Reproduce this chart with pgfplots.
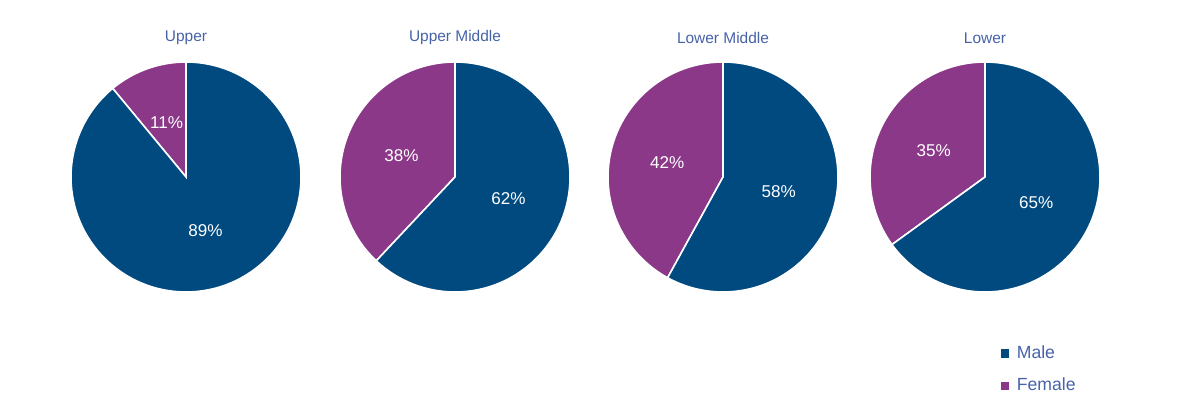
\documentclass[border=0pt]{standalone}
\usepackage{pgfplots}
\pgfplotsset{compat=1.18}
\usepackage{fontspec}
\setmainfont{Liberation Sans}
\definecolor{male}{HTML}{004A80}
\definecolor{female}{HTML}{8B3889}
\definecolor{titleblue}{HTML}{4662A8}
\newcommand\titlefont{\fontsize{11.6}{14}\selectfont}
\newcommand\pctfont{\fontsize{12.8}{15}\selectfont}
\newcommand\legfont{\fontsize{13.2}{16}\selectfont}
% #1 centre x, #2 centre y (axis units, 1 unit = 1 px), #3 male %, #4 female %, #5 title
\newcommand\pie[5]{%
  \fill[female, draw=white, line width=1.2pt] (axis cs:#1,#2) -- (axis cs:#1,{#2+115})
     arc[start angle=90, end angle={90+3.6*#4}, radius=86.25pt] -- cycle;
  \fill[male, draw=white, line width=1.2pt] (axis cs:#1,#2) -- (axis cs:#1,{#2+115})
     arc[start angle=90, end angle={90-3.6*#3}, radius=86.25pt] -- cycle;
  \node[white, font=\pctfont] at (axis cs:{#1+57.5*cos(90-1.8*#3)},{#2+57.5*sin(90-1.8*#3)}) {#3\%};
  \node[white, font=\pctfont] at (axis cs:{#1+57.5*cos(90+1.8*#4)},{#2+57.5*sin(90+1.8*#4)}) {#4\%};
  \node[titleblue, font=\titlefont] at (axis cs:#1,382) {#5};
}
\begin{document}
\begin{tikzpicture}
\begin{axis}[
  scale only axis, width=882.75pt, height=315pt,
  xmin=0, xmax=1177, ymin=0, ymax=420,
  hide axis, clip=false,
  legend style={draw=none, fill=none, at={(axis cs:1001,77)}, anchor=north west,
    font=\legfont, text=titleblue, row sep=9pt, inner sep=0pt},
  legend cell align=left,
  legend image code/.code={\fill[#1] (0pt,-2.7pt) rectangle (5.4pt,2.7pt); \path[draw=none,fill=none] (0pt,0pt) -- (9.5pt,0pt);},
]
\path (axis cs:0,0) rectangle (axis cs:1177,420);
\addlegendimage{male}\addlegendentry{Male}
\addlegendimage{female}\addlegendentry{Female}
\pie{186}{243}{89}{11}{Upper}
\pie{455}{243}{62}{38}{Upper Middle}
\pie{723}{243}{58}{42}{Lower Middle}
\pie{985}{243}{65}{35}{Lower}
\end{axis}
\end{tikzpicture}
\end{document}
